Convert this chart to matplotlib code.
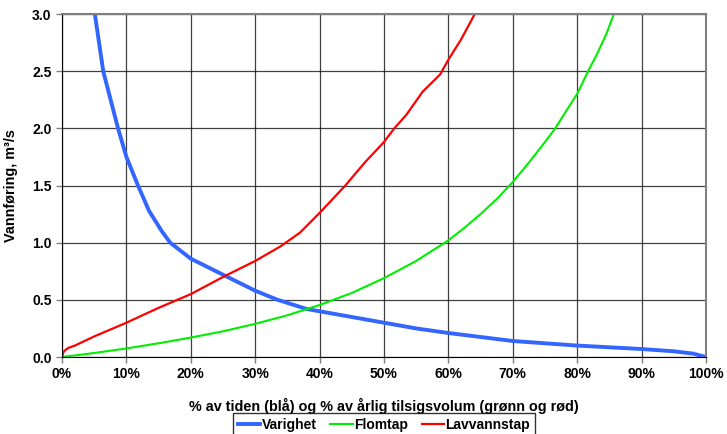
import numpy as np
import matplotlib
matplotlib.use("Agg")
import matplotlib.pyplot as plt
from matplotlib.ticker import PercentFormatter

plt.rcParams['font.family'] = ['Liberation Sans', 'DejaVu Sans']
plt.rcParams['font.weight'] = 'bold'

# Varighet (blå): % av tiden
var_x = [4.0, 5.1, 6.4, 8.7, 10.0, 11.8, 13.5, 15.5, 16.8, 20.0, 22.5, 25.0, 27.5,
         30.0, 33.5, 38.0, 40.0, 45.0, 50.0, 55.0, 60.0, 65.0, 70.0, 75.0, 80.0,
         85.0, 90.0, 95.0, 98.0, 100.0]
var_y = [3.6, 3.0, 2.5, 2.0, 1.75, 1.5, 1.28, 1.1, 1.0, 0.86, 0.79, 0.72, 0.65,
         0.58, 0.50, 0.42, 0.40, 0.35, 0.30, 0.25, 0.21, 0.175, 0.14, 0.12, 0.10,
         0.085, 0.07, 0.05, 0.03, 0.0]

# Flomtap (grønn): % av årlig tilsigsvolum
flom_x = [0, 5, 10, 15, 20, 25, 30, 35, 40, 45, 50, 55, 60, 62.5, 65, 67.5, 70,
          72.5, 75, 76.6, 78.5, 80, 81.7, 83, 84.5, 85.7, 87]
flom_y = [0, 0.035, 0.075, 0.12, 0.17, 0.225, 0.29, 0.365, 0.455, 0.56, 0.69,
          0.84, 1.02, 1.13, 1.25, 1.38, 1.53, 1.7, 1.88, 2.0, 2.17, 2.3, 2.5,
          2.64, 2.82, 3.0, 3.2]

# Lavvannstap (rød): % av årlig tilsigsvolum
lav_x = [0, 0.2, 0.5, 1, 2, 5, 10, 15, 20, 25, 30, 34, 37, 40, 44, 47,
         50, 51.6, 53.5, 56, 58.7, 60, 62, 64.1, 65]
lav_y = [0, 0.04, 0.06, 0.08, 0.1, 0.18, 0.3, 0.43, 0.55, 0.7, 0.84, 0.97, 1.09,
         1.26, 1.5, 1.7, 1.88, 2.0, 2.12, 2.32, 2.47, 2.6, 2.78, 3.0, 3.1]

fig = plt.figure(figsize=(7.27, 4.34), dpi=100)
ax = fig.add_axes([0.0853, 0.1774, 0.8857, 0.7903])

l1, = ax.plot(var_x, var_y, color='#3366ff', lw=2.8, label='Varighet')
l2, = ax.plot(flom_x, flom_y, color='#00ee00', lw=1.5, label='Flomtap')
l3, = ax.plot(lav_x, lav_y, color='#ff0000', lw=1.6, label='Lavvannstap')

ax.set_xlim(0, 100)
ax.set_ylim(0, 3.0)
ax.set_xticks(np.arange(0, 101, 10))
ax.set_yticks(np.arange(0, 3.01, 0.5))
ax.xaxis.set_major_formatter(PercentFormatter(decimals=0))
ax.yaxis.set_major_formatter(plt.FormatStrFormatter('%.1f'))
ax.tick_params(labelsize=10, length=4, width=1, color='#808080')
ax.grid(True, color='black', lw=0.9, alpha=0.75)
for s in ['top', 'right']:
    ax.spines[s].set_color('#808080')
    ax.spines[s].set_linewidth(1.5)
for s in ['left', 'bottom']:
    ax.spines[s].set_color('black')

ax.set_xlabel('% av tiden (blå) og % av årlig tilsigsvolum (grønn og rød)',
              fontsize=10.4, fontweight='bold', labelpad=12)
ax.set_ylabel('Vannføring, m³/s', fontsize=10.4, fontweight='bold', labelpad=10)

leg = fig.legend(handles=[l1, l2, l3], loc='upper center',
                 bbox_to_anchor=(0.528, 0.048), borderaxespad=0, ncol=3,
                 fontsize=10, frameon=True, fancybox=False, edgecolor='black',
                 handlelength=1.6, handletextpad=0.1, columnspacing=1.0,
                 borderpad=0.35)
leg.get_frame().set_linewidth(1.0)

fig.savefig('out.png', dpi=100)
